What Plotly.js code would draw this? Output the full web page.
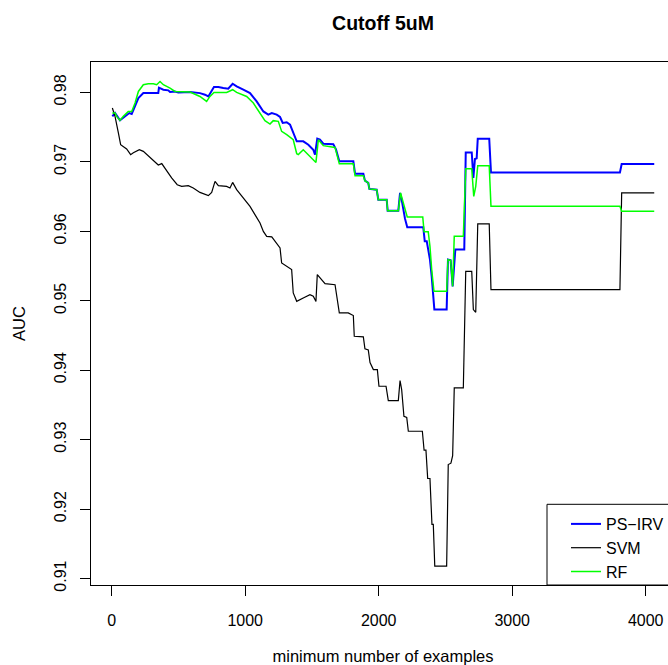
<!DOCTYPE html>
<html>
<head>
<meta charset="utf-8">
<script src="https://cdn.plot.ly/plotly-3.0.1.min.js"></script>
<style>
  html, body { margin: 0; padding: 0; overflow: hidden; background: #fff; }
  #chart { width: 675px; height: 665px; }
</style>
</head>
<body>
<div id="chart"></div>
<script>
// ---- data ----
const seriesNames = ['PS\u2212IRV', 'SVM', 'RF'];

const psirvX = [5, 25, 62, 100, 132, 150, 175, 200, 237, 274, 324, 349, 354, 387, 424, 437, 474, 499, 587, 661, 699, 724, 766, 799, 836, 873, 906, 936, 986, 1036, 1086, 1136, 1173, 1199, 1236, 1261, 1281, 1311, 1336, 1360, 1386, 1435, 1473, 1510, 1523, 1540, 1560, 1585, 1660, 1680, 1705, 1810, 1823, 1885, 1897, 1922, 1930, 1985, 1997, 2060, 2067, 2147, 2160, 2172, 2184, 2197, 2214, 2334, 2345, 2360, 2371, 2384, 2397, 2417, 2509, 2519, 2539, 2554, 2574, 2641, 2652, 2697, 2709, 2721, 2734, 2742, 2828, 2841, 3807, 3820, 4064];
const psirvY = [0.97655, 0.97703, 0.97597, 0.97655, 0.97703, 0.97690, 0.97798, 0.97919, 0.97991, 0.97991, 0.97981, 0.97991, 0.98068, 0.98039, 0.98030, 0.98005, 0.98014, 0.98000, 0.98005, 0.97990, 0.97967, 0.97942, 0.98078, 0.98078, 0.98063, 0.98053, 0.98125, 0.98086, 0.98039, 0.97990, 0.97870, 0.97726, 0.97680, 0.97703, 0.97680, 0.97646, 0.97560, 0.97570, 0.97535, 0.97416, 0.97295, 0.97295, 0.97247, 0.97175, 0.97103, 0.97334, 0.97320, 0.97262, 0.97255, 0.97180, 0.97007, 0.97007, 0.96830, 0.96830, 0.96729, 0.96696, 0.96610, 0.96600, 0.96455, 0.96455, 0.96297, 0.96297, 0.96552, 0.96455, 0.96311, 0.96182, 0.96057, 0.96057, 0.95855, 0.95855, 0.95736, 0.95592, 0.95351, 0.94872, 0.94872, 0.95592, 0.95582, 0.95207, 0.95736, 0.95736, 0.97136, 0.97136, 0.96768, 0.97041, 0.97050, 0.97334, 0.97334, 0.96848, 0.96848, 0.96969, 0.96969];

const svmX = [5, 25, 50, 67, 112, 142, 162, 207, 237, 274, 324, 349, 375, 412, 449, 491, 524, 574, 611, 661, 699, 724, 749, 774, 799, 861, 886, 906, 936, 986, 1036, 1073, 1111, 1136, 1161, 1199, 1236, 1261, 1273, 1311, 1348, 1360, 1386, 1435, 1485, 1510, 1530, 1540, 1573, 1598, 1673, 1705, 1772, 1810, 1817, 1885, 1897, 1922, 1935, 1960, 1990, 2002, 2055, 2072, 2147, 2160, 2172, 2189, 2210, 2222, 2327, 2340, 2354, 2367, 2384, 2399, 2409, 2420, 2509, 2521, 2541, 2554, 2566, 2634, 2652, 2697, 2709, 2727, 2742, 2828, 2841, 3807, 3820, 4064];
const svmY = [0.97775, 0.97655, 0.97416, 0.97247, 0.97185, 0.97103, 0.97130, 0.97175, 0.97151, 0.97089, 0.97007, 0.96955, 0.96975, 0.96863, 0.96768, 0.96671, 0.96647, 0.96657, 0.96624, 0.96560, 0.96527, 0.96513, 0.96560, 0.96719, 0.96657, 0.96647, 0.96624, 0.96704, 0.96600, 0.96480, 0.96359, 0.96240, 0.96120, 0.95999, 0.95927, 0.95920, 0.95832, 0.95760, 0.95544, 0.95495, 0.95448, 0.95112, 0.94991, 0.95040, 0.95088, 0.95064, 0.94991, 0.95376, 0.95300, 0.95246, 0.95230, 0.94825, 0.94825, 0.94786, 0.94488, 0.94479, 0.94306, 0.94290, 0.94110, 0.94008, 0.94008, 0.93768, 0.93768, 0.93562, 0.93562, 0.93851, 0.93721, 0.93336, 0.93320, 0.93120, 0.93120, 0.92847, 0.92847, 0.92440, 0.92440, 0.91778, 0.91778, 0.91177, 0.91177, 0.92641, 0.92660, 0.92770, 0.93744, 0.93744, 0.95423, 0.95423, 0.94872, 0.94833, 0.96106, 0.96106, 0.95160, 0.95160, 0.96552, 0.96552];

const rfX = [5, 25, 37, 62, 87, 124, 150, 175, 200, 237, 274, 312, 337, 362, 387, 437, 474, 587, 661, 711, 736, 766, 861, 906, 936, 1011, 1061, 1111, 1148, 1186, 1210, 1248, 1273, 1311, 1360, 1386, 1398, 1435, 1498, 1530, 1548, 1585, 1673, 1705, 1810, 1823, 1885, 1897, 1922, 1930, 1985, 1997, 2060, 2067, 2147, 2164, 2197, 2214, 2330, 2340, 2371, 2384, 2397, 2414, 2509, 2519, 2539, 2554, 2566, 2634, 2652, 2697, 2712, 2727, 2742, 2828, 2841, 3807, 3820, 4064];
const rfY = [0.97703, 0.97703, 0.97655, 0.97597, 0.97655, 0.97726, 0.97726, 0.97847, 0.98014, 0.98111, 0.98125, 0.98125, 0.98111, 0.98158, 0.98111, 0.98063, 0.98014, 0.98005, 0.97942, 0.97870, 0.97942, 0.98000, 0.98000, 0.98039, 0.98000, 0.97942, 0.97847, 0.97703, 0.97593, 0.97545, 0.97593, 0.97583, 0.97439, 0.97391, 0.97319, 0.97118, 0.97104, 0.97175, 0.97055, 0.96992, 0.97319, 0.97233, 0.97208, 0.96974, 0.96974, 0.96801, 0.96801, 0.96729, 0.96696, 0.96610, 0.96600, 0.96455, 0.96455, 0.96297, 0.96297, 0.96552, 0.96322, 0.96206, 0.96206, 0.95994, 0.95994, 0.95783, 0.95448, 0.95135, 0.95135, 0.95592, 0.95582, 0.95207, 0.95927, 0.95927, 0.96902, 0.96902, 0.96503, 0.96647, 0.96945, 0.96945, 0.96359, 0.96359, 0.96287, 0.96287];

const xTicks = [0, 1000, 2000, 3000, 4000];
const yTicks = [0.91, 0.92, 0.93, 0.94, 0.95, 0.96, 0.97, 0.98];
const yTickLabels = ['0.91', '0.92', '0.93', '0.94', '0.95', '0.96', '0.97', '0.98'];

// ---- figure ----
const FONT = '"Liberation Sans", Arial, Helvetica, sans-serif';

const traces = [
  { x: psirvX, y: psirvY, name: seriesNames[0], type: 'scatter', mode: 'lines',
    line: { color: '#0000FF', width: 2 } },
  { x: svmX, y: svmY, name: seriesNames[1], type: 'scatter', mode: 'lines',
    line: { color: '#000000', width: 1.2 } },
  { x: rfX, y: rfY, name: seriesNames[2], type: 'scatter', mode: 'lines',
    line: { color: '#00FF00', width: 1.5 } }
];

const layout = {
  width: 675, height: 665,
  margin: { l: 91, r: 0, t: 62, b: 80, pad: 0, autoexpand: false },
  paper_bgcolor: '#fff', plot_bgcolor: '#fff',
  font: { family: FONT, size: 16, color: '#000' },
  showlegend: true,
  title: { text: '<b>Cutoff 5uM</b>', font: { family: FONT, size: 19.5, color: '#000' },
           x: 0.5, xref: 'paper', xanchor: 'center', y: 1 - 23 / 665, yref: 'container', yanchor: 'middle' },
  xaxis: {
    range: [-155, 4219.5], tickvals: xTicks, ticktext: xTicks.map(String),
    showgrid: false, zeroline: false, showline: true, mirror: true, linecolor: '#000', linewidth: 1,
    ticks: 'outside', ticklen: 10, tickcolor: '#000', tickwidth: 1,
    ticklabelstandoff: 11,
    tickfont: { family: FONT, size: 16 },
    title: { text: 'minimum number of examples', font: { family: FONT, size: 16.5 }, standoff: 22 }
  },
  yaxis: {
    range: [0.90906, 0.98438], tickvals: yTicks, ticktext: yTickLabels, tickangle: -90,
    showgrid: false, zeroline: false, showline: true, mirror: true, linecolor: '#000', linewidth: 1,
    ticks: 'outside', ticklen: 10, tickcolor: '#000', tickwidth: 1,
    ticklabelstandoff: 8,
    tickfont: { family: FONT, size: 16 },
    title: { text: 'AUC', font: { family: FONT, size: 16.5 }, standoff: 21 }
  },
  legend: {
    x: (566 - 91) / 584, xanchor: 'left', xref: 'paper',
    y: (585 - 507) / 523, yanchor: 'top', yref: 'paper',
    bgcolor: 'rgba(255,255,255,0)', borderwidth: 0,
    font: { family: FONT, size: 16, color: '#000' },
    itemwidth: 30, tracegroupgap: 0
  },
  shapes: [
    { type: 'rect', xref: 'paper', yref: 'paper',
      x0: (547 - 91) / 584, x1: 1, y0: 0, y1: (585 - 504.3) / 523,
      line: { color: '#000', width: 1 }, fillcolor: 'rgba(0,0,0,0)', layer: 'above' }
  ]
};

Plotly.newPlot('chart', traces, layout, { displayModeBar: false, staticPlot: true });
</script>
</body>
</html>
